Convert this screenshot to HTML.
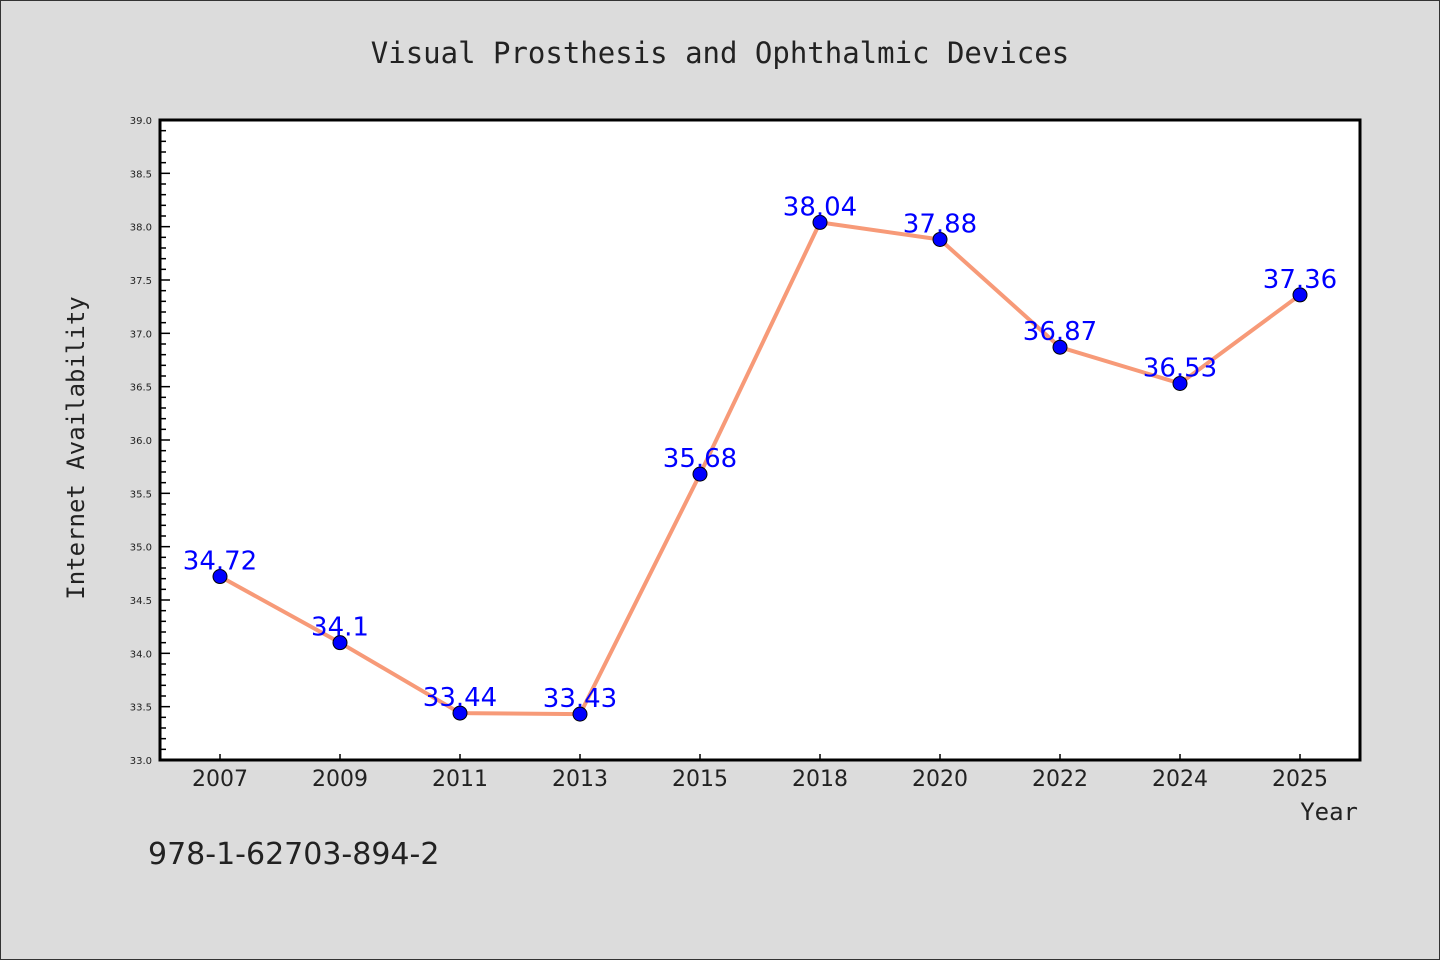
<!DOCTYPE html>
<html><head><meta charset="utf-8"><style>
html,body{margin:0;padding:0;background:#dcdcdc;}
svg{display:block;}
</style></head><body>
<svg id="chart" width="1440" height="960" xmlns="http://www.w3.org/2000/svg">
<rect x="0.5" y="0.5" width="1439" height="959" fill="#dcdcdc" stroke="#333"/>
<text x="720" y="63" text-anchor="middle" font-family="DejaVu Sans Mono, Liberation Mono, monospace" font-size="29" fill="#222">Visual Prosthesis and Ophthalmic Devices</text>
<rect x="160" y="120" width="1200" height="640" fill="#fff"/>
<g id="yaxis"></g><g id="xaxis"></g><g id="series"></g>
<rect x="160" y="120" width="1200" height="640" fill="none" stroke="#000" stroke-width="3"/>
<text transform="translate(84,448) rotate(-90)" text-anchor="middle" font-family="DejaVu Sans Mono, Liberation Mono, monospace" font-size="24" fill="#222">Internet Availability</text>
<text x="1358" y="820" text-anchor="end" font-family="DejaVu Sans Mono, Liberation Mono, monospace" font-size="24" fill="#222">Year</text>
<text x="148" y="864" font-family="DejaVu Sans, Liberation Sans, sans-serif" font-size="30" fill="#222">978-1-62703-894-2</text>
</svg>
<script>
const categories = ["2007","2009","2011","2013","2015","2018","2020","2022","2024","2025"];
const values = [34.72,34.1,33.44,33.43,35.68,38.04,37.88,36.87,36.53,37.36];
const valueLabels = ["34.72","34.1","33.44","33.43","35.68","38.04","37.88","36.87","36.53","37.36"];
const yTicks = ["33.0","33.5","34.0","34.5","35.0","35.5","36.0","36.5","37.0","37.5","38.0","38.5","39.0"];
const NS="http://www.w3.org/2000/svg";
const x0=160,x1=1360,y0=760,y1=120,yMin=33,yMax=39;
const band=(x1-x0)/categories.length;
function xs(i){return x0+band*(i+0.5);}
function ys(v){return y0-(v-yMin)/(yMax-yMin)*(y0-y1);}
function mk(t,a,p){const e=document.createElementNS(NS,t);for(const k in a)e.setAttribute(k,a[k]);p.appendChild(e);return e;}
const ya=document.getElementById('yaxis'),xa=document.getElementById('xaxis'),sg=document.getElementById('series');
for(let v=yMin*10;v<=yMax*10;v++){
  const y=ys(v/10);const major=v%5===0;
  const l=mk('line',{x1:x0,x2:x0+(major?10:6),y1:y,y2:y,stroke:'#000','stroke-width':1.5},ya);
  
  
}
yTicks.forEach(t=>{
  const e=mk('text',{x:152,y:ys(parseFloat(t))+4,'text-anchor':'end','font-family':'DejaVu Sans, Liberation Sans, sans-serif','font-size':10,fill:'#222'},ya);
  e.textContent=t;
  
  
});
categories.forEach((c,i)=>{
  const x=xs(i);
  const l=mk('line',{x1:x,x2:x,y1:y0,y2:y0-6,stroke:'#000','stroke-width':1.5},xa);
  
  
  const t=mk('text',{x:x,y:y0+26,'text-anchor':'middle','font-family':'DejaVu Sans, Liberation Sans, sans-serif','font-size':22,fill:'#222'},xa);
  t.textContent=c;
  
  
});
const pl=mk('polyline',{points:values.map((v,i)=>xs(i)+','+ys(v)).join(' '),fill:'none',stroke:'#f79a78','stroke-width':4,'stroke-linejoin':'round'},sg);


values.forEach((v,i)=>{
  const c=mk('circle',{cx:xs(i),cy:ys(v),r:7,fill:'#0000ff',stroke:'#000','stroke-width':1},sg);
  
  
});
values.forEach((v,i)=>{
  const t=mk('text',{x:xs(i),y:ys(v)-7,'text-anchor':'middle','font-family':'DejaVu Sans, Liberation Sans, sans-serif','font-size':26,fill:'#0000ff'},sg);
  t.textContent=valueLabels[i];
  
  
});
</script>
</body></html>
